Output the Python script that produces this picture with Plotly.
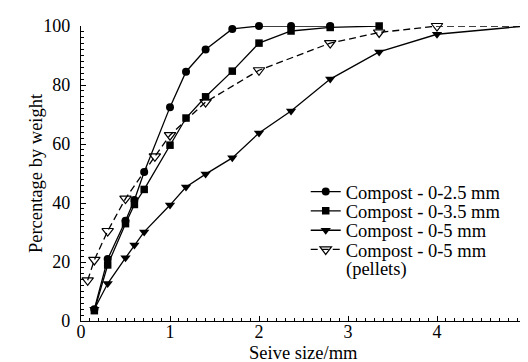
import plotly.graph_objects as go

# Data
sieve_25 = [0.15, 0.3, 0.5, 0.6, 0.71, 1.0, 1.18, 1.4, 1.7, 2.0, 2.36, 2.8]
pct_25 = [4, 21, 34, 41, 50.5, 72.5, 84.5, 92, 99, 100, 100, 100]

sieve_35 = [0.15, 0.3, 0.5, 0.6, 0.71, 1.0, 1.18, 1.4, 1.7, 2.0, 2.36, 2.8, 3.35]
pct_35 = [3.5, 19, 33, 39.5, 44.6, 59.6, 68.8, 76, 84.7, 94.2, 98.3, 99.5, 100]

sieve_5 = [0.15, 0.3, 0.5, 0.6, 0.71, 1.0, 1.18, 1.4, 1.7, 2.0, 2.36, 2.8, 3.35, 4.0, 5.0]
pct_5 = [4, 12.7, 21.4, 25.8, 30.2, 39.3, 45.4, 49.8, 55.3, 63.7, 71.2, 82, 91.2, 97.2, 100]

sieve_p = [0.075, 0.15, 0.3, 0.5, 0.83, 1.0, 1.4, 2.0, 2.8, 3.35, 4.0, 5.0]
pct_p = [13.8, 20.7, 30.5, 41.5, 55.8, 63, 74.2, 85, 94.2, 97.8, 100, 100]

names = ["Compost - 0-2.5 mm", "Compost - 0-3.5 mm", "Compost - 0-5 mm",
         "Compost - 0-5 mm"]
name_extra = "(pellets)"
x_title = "Seive size/mm"
y_title = "Percentage by weight"

FONT = "Liberation Serif"
FS = 18.5
TFS = 18
fig = go.Figure()
line = dict(color="black", width=1.3)
fig.add_trace(go.Scatter(x=sieve_25, y=pct_25, name=names[0], mode="lines+markers",
                         line=line, marker=dict(symbol="circle", size=8, color="black"),
                         cliponaxis=False, legend="legend"))
fig.add_trace(go.Scatter(x=sieve_35, y=pct_35, name=names[1], mode="lines+markers",
                         line=line, marker=dict(symbol="square", size=7.5, color="black"),
                         cliponaxis=False, legend="legend2"))
fig.add_trace(go.Scatter(x=sieve_5, y=pct_5, name=names[2], mode="lines+markers",
                         line=line, marker=dict(symbol="triangle-down", size=9, color="black"),
                         cliponaxis=False, legend="legend3"))
fig.add_trace(go.Scatter(x=sieve_p, y=pct_p, name=names[3], mode="lines+markers",
                         line=dict(color="black", width=1.3, dash="7px,4px"),
                         marker=dict(symbol="triangle-down-open", size=10, color="black",
                                     line=dict(width=1.2, color="black")),
                         cliponaxis=False, legend="legend4"))

axis_common = dict(showline=True, linecolor="black", linewidth=1.2, ticks="inside",
                   ticklen=5, tickcolor="black", showgrid=False, zeroline=False,
                   tickfont=dict(family=FONT, size=TFS, color="black"),
                   mirror=False)
fig.update_xaxes(range=[0, 5], dtick=1, tick0=0, ticklabelstandoff=-6,
                 minor=dict(dtick=0.1, ticks="inside", ticklen=3, tickcolor="black"),
                 **axis_common)
fig.update_yaxes(range=[0, 100], dtick=20, tick0=0, ticklabelstandoff=6,
                 minor=dict(dtick=2, ticks="inside", ticklen=3, tickcolor="black"),
                 **axis_common)

# one legend box per row so the rows can sit as tightly as in the reference
def leg(yc):
    return dict(x=0.505, y=yc, xanchor="left", yanchor="middle",
                bgcolor="rgba(0,0,0,0)", font=dict(family=FONT, size=FS, color="black"),
                tracegroupgap=0, itemwidth=30)

row_centres = [0.437, 0.372, 0.306, 0.241]
fig.update_layout(
    width=528, height=362,
    margin=dict(l=73, r=5, t=18, b=49),
    paper_bgcolor="white", plot_bgcolor="white",
    font=dict(family=FONT, size=FS, color="black"),
    legend=leg(row_centres[0]), legend2=leg(row_centres[1]),
    legend3=leg(row_centres[2]), legend4=leg(row_centres[3]),
    showlegend=True,
)
fig.add_annotation(text=name_extra, xref="paper", yref="paper", x=(339 - 73) / 450,
                   y=0.174, xanchor="left", yanchor="middle", showarrow=False,
                   font=dict(family=FONT, size=FS, color="black"))
fig.add_annotation(text=x_title, xref="paper", yref="paper", x=0.5, y=-0.1085,
                   xanchor="center", yanchor="middle", showarrow=False,
                   font=dict(family=FONT, size=FS, color="black"))
fig.add_annotation(text=y_title, xref="paper", yref="paper", x=-0.102, y=0.5,
                   xanchor="center", yanchor="middle", showarrow=False, textangle=-90,
                   font=dict(family=FONT, size=FS, color="black"))

fig.write_html("out.html")
